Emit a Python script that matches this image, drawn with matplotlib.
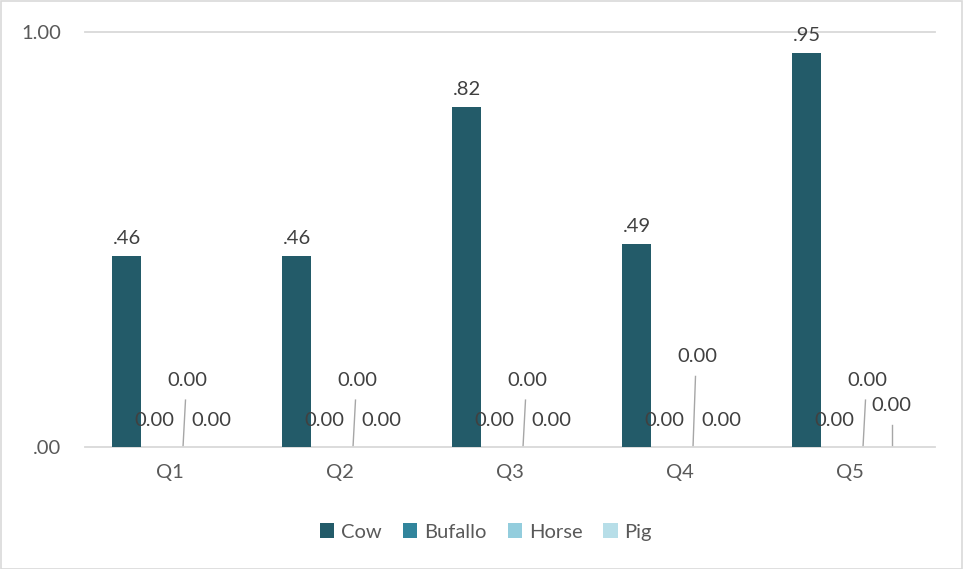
import matplotlib
matplotlib.use("Agg")
import matplotlib.pyplot as plt
from matplotlib.patches import Rectangle
import numpy as np

plt.rcParams['font.family'] = ['Lato', 'DejaVu Sans']

quarters = ["Q1", "Q2", "Q3", "Q4", "Q5"]
series_names = ["Cow", "Bufallo", "Horse", "Pig"]
cow = [0.46, 0.46, 0.82, 0.49, 0.95]
bufallo = [0.0, 0.0, 0.0, 0.0, 0.0]
horse = [0.0, 0.0, 0.0, 0.0, 0.0]
pig = [0.0, 0.0, 0.0, 0.0, 0.0]
colors = ["#235B69", "#31859C", "#93CDDD", "#B7DEE8"]
y_ticks = [0.0, 1.0]
y_tick_labels = [".00", "1.00"]

text_color = "#595959"
label_color = "#404040"
grid_color = "#D9D9D9"
fs = 14.5

fig = plt.figure(figsize=(9.63, 5.69), dpi=100)
fig.patch.set_facecolor("white")
ax = fig.add_axes([85 / 963, 1 - 447 / 569, 850 / 963, 415 / 569])

x = np.arange(len(quarters))
width = 29 / 170
data = [cow, bufallo, horse, pig]
offsets = [(i - 1.5) * width for i in range(4)]

for vals, off, col, name in zip(data, offsets, colors, series_names):
    ax.bar(x + off, vals, width=width, color=col, label=name, zorder=3)

# value labels on the cow bars
for xi, v in zip(x, cow):
    ax.text(xi + offsets[0], v + 0.022, f"{v:.2f}".lstrip("0"), ha="center",
            va="bottom", fontsize=fs, color=label_color)

# zero-value labels for the other series, with leader lines where lifted
label_kw = dict(ha="center", va="center", fontsize=fs, color=label_color, zorder=4)
for i, xi in enumerate(x):
    ax.text(xi + offsets[1] - 1.5 / 170, bufallo[i] + 0.063, f"{bufallo[i]:.2f}", **label_kw)
    hy = 0.217 if i == 3 else 0.16
    hx = xi + offsets[2] + 3 / 170
    ax.text(hx, horse[i] + hy, f"{horse[i]:.2f}", **label_kw)
    ax.plot([xi + offsets[2] - 1.5 / 170, hx - 2 / 170], [horse[i], horse[i] + hy - 0.047],
            color="#A6A6A6", lw=1.0, zorder=2)
    if i == 4:
        py = 0.10
        ax.text(xi + offsets[3] - 2 / 170, pig[i] + py, f"{pig[i]:.2f}", **label_kw)
        ax.plot([xi + offsets[3] - 2 / 170] * 2, [pig[i], pig[i] + py - 0.047],
                color="#A6A6A6", lw=1.0, zorder=2)
    else:
        ax.text(xi + offsets[3] - 2 / 170, pig[i] + 0.063, f"{pig[i]:.2f}", **label_kw)

ax.set_xlim(-0.5, len(quarters) - 0.5)
ax.set_ylim(0, 1.0)
ax.set_yticks(y_ticks)
ax.set_yticklabels(y_tick_labels)
ax.set_xticks(x)
ax.set_xticklabels(quarters)
ax.tick_params(axis="both", length=0, labelsize=fs, colors=text_color)
ax.tick_params(axis="x", pad=12)
ax.tick_params(axis="y", pad=17)

for s in ["top", "right", "left"]:
    ax.spines[s].set_visible(False)
ax.spines["bottom"].set_color(grid_color)
ax.spines["bottom"].set_linewidth(1.3)
ax.axhline(1.0, color=grid_color, lw=1.3, zorder=1, clip_on=False)

leg = fig.legend(loc="center", bbox_to_anchor=(486 / 963, 1 - 532 / 569), ncol=4,
                 frameon=False, fontsize=fs, handlelength=0.7, handleheight=0.7,
                 handletextpad=0.35, columnspacing=1.05)
for t in leg.get_texts():
    t.set_color(text_color)

fig.patches.append(Rectangle((0.5 / 963, 0.5 / 569), 1 - 1.5 / 963, 1 - 1.5 / 569,
                             transform=fig.transFigure, fill=False,
                             edgecolor=grid_color, lw=1.2))

fig.savefig("out.png", dpi=100)
